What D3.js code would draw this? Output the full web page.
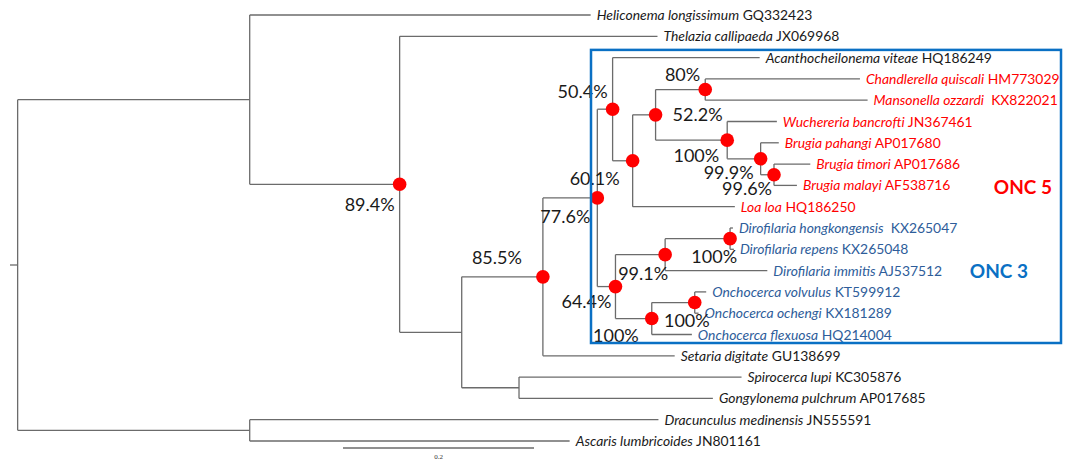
<!DOCTYPE html>
<html>
<head>
<meta charset="utf-8">
<script src="https://cdn.jsdelivr.net/npm/d3@7"></script>
<style>
  body { margin: 0; background: #fff; }
  svg { display: block; }
  .branch { fill: none; stroke: #6b6b6b; stroke-width: 1.3; }
  .leaf-label { font-family: Lato, "Noto Sans", sans-serif; font-size: 13.9px; }
  .support { font-family: Lato, "Noto Sans", sans-serif; font-size: 18px; fill: #1a1a1a; }
</style>
</head>
<body>
<div id="chart"></div>
<script>
// tree: [node, parent, branch length (substitutions/site)]
const branches = [
  ["root", "", 0.008],
  ["N1", "root", 0.243],
  ["Heliconema", "N1", 0.357],
  ["N2", "N1", 0.157],
  ["Thelazia", "N2", 0.270],
  ["N3", "N2", 0.065],
  ["N4", "N3", 0.085],
  ["N5", "N4", 0.057],
  ["N6", "N5", 0.016],
  ["Acanthocheilonema", "N6", 0.154],
  ["N7", "N6", 0.021],
  ["N8", "N7", 0.024],
  ["N9", "N8", 0.052],
  ["Chandlerella", "N9", 0.162],
  ["Mansonella", "N9", 0.170],
  ["N10", "N8", 0.075],
  ["Wuchereria", "N10", 0.052],
  ["N11", "N10", 0.035],
  ["BPahangi", "N11", 0.019],
  ["N12", "N11", 0.014],
  ["BTimori", "N12", 0.038],
  ["BMalayi", "N12", 0.024],
  ["Loa", "N7", 0.107],
  ["N13", "N5", 0.019],
  ["N14", "N13", 0.052],
  ["N15", "N14", 0.068],
  ["DHongkongensis", "N15", 0.003],
  ["DRepens", "N15", 0.004],
  ["DImmitis", "N14", 0.107],
  ["N16", "N13", 0.038],
  ["N17", "N16", 0.045],
  ["OVolvulus", "N17", 0.012],
  ["OOchengi", "N17", 0.004],
  ["OFlexuosa", "N16", 0.042],
  ["Setaria", "N4", 0.138],
  ["N18", "N3", 0.060],
  ["Spirocerca", "N18", 0.233],
  ["Gongylonema", "N18", 0.203],
  ["N19", "root", 0.243],
  ["Dracunculus", "N19", 0.428],
  ["Ascaris", "N19", 0.335]
];

const leafIds = ["Heliconema", "Thelazia", "Acanthocheilonema", "Chandlerella", "Mansonella",
  "Wuchereria", "BPahangi", "BTimori", "BMalayi", "Loa", "DHongkongensis", "DRepens",
  "DImmitis", "OVolvulus", "OOchengi", "OFlexuosa", "Setaria", "Spirocerca", "Gongylonema",
  "Dracunculus", "Ascaris"];
const leafSpecies = ["Heliconema longissimum", "Thelazia callipaeda", "Acanthocheilonema viteae",
  "Chandlerella quiscali", "Mansonella ozzardi", "Wuchereria bancrofti", "Brugia pahangi",
  "Brugia timori", "Brugia malayi", "Loa loa", "Dirofilaria hongkongensis", "Dirofilaria repens",
  "Dirofilaria immitis", "Onchocerca volvulus", "Onchocerca ochengi", "Onchocerca flexuosa",
  "Setaria digitate", "Spirocerca lupi", "Gongylonema pulchrum", "Dracunculus medinensis",
  "Ascaris lumbricoides"];
const leafAccessions = ["GQ332423", "JX069968", "HQ186249", "HM773029", "\u00a0KX822021",
  "JN367461", "AP017680", "AP017686", "AF538716", "HQ186250", "\u00a0KX265047", "KX265048",
  "AJ537512", "KT599912", "KX181289", "HQ214004", "GU138699", "KC305876", "AP017685",
  "JN555591", "JN801161"];
const leafGroups = ["", "", "", "ONC 5", "ONC 5", "ONC 5", "ONC 5", "ONC 5", "ONC 5", "ONC 5",
  "ONC 3", "ONC 3", "ONC 3", "ONC 3", "ONC 3", "ONC 3", "", "", "", "", ""];

const supportNodes = ["N2", "N4", "N7", "N5", "N6", "N9", "N8", "N10", "N11", "N12",
  "N13", "N14", "N15", "N16", "N17"];
const supportValues = ["89.4%", "85.5%", "60.1%", "77.6%", "50.4%", "80%", "52.2%", "100%",
  "99.9%", "99.6%", "64.4%", "99.1%", "100%", "100%", "100%"];

const scaleBarValue = 0.2;

const width = 1067, height = 462;
const groupColor = { "": "#1a1a1a", "ONC 5": "#ff0000", "ONC 3": "#2e5d9a" };

const svg = d3.select('#chart').append('svg')
  .attr('width', width)
  .attr('height', height);

const root = d3.stratify()
  .id(d => d[0])
  .parentId(d => d[1] || null)(branches);

// cumulative distance from the origin
root.eachBefore(n => {
  n.dist = (n.parent ? n.parent.dist : 0) + n.data[2];
});

const x = d3.scaleLinear().domain([0, 1]).range([10, 965]);
const y = d3.scalePoint().domain(leafIds).range([15, 441]);

root.eachAfter(n => {
  n.px = x(n.dist);
  if (!n.children) {
    n.py = y(n.id);
  } else {
    n.py = (n.children[0].py + n.children[n.children.length - 1].py) / 2;
  }
});

const g = svg.append('g');

// horizontal branches
g.selectAll('line.h')
  .data(root.descendants())
  .join('line')
  .attr('class', 'branch')
  .attr('x1', d => d.parent ? d.parent.px : x(0))
  .attr('x2', d => d.px)
  .attr('y1', d => d.py)
  .attr('y2', d => d.py);

// vertical connectors
g.selectAll('line.v')
  .data(root.descendants().filter(d => d.children))
  .join('line')
  .attr('class', 'branch')
  .attr('x1', d => d.px)
  .attr('x2', d => d.px)
  .attr('y1', d => d.children[0].py)
  .attr('y2', d => d.children[d.children.length - 1].py);

// clade box
const onc = root.leaves().filter(d => leafGroups[leafIds.indexOf(d.id)] !== '');
const boxTop = d3.min(onc, d => d.py) - 29;
const boxBottom = d3.max(onc, d => d.py) + 8.5;
svg.append('rect')
  .attr('x', 591)
  .attr('y', boxTop)
  .attr('width', 470)
  .attr('height', boxBottom - boxTop)
  .attr('fill', 'none')
  .attr('stroke', '#0a70c4')
  .attr('stroke-width', 2.5);

// leaf labels
const leafText = g.selectAll('text.leaf-label')
  .data(root.leaves())
  .join('text')
  .attr('class', 'leaf-label')
  .attr('x', d => d.px + 6)
  .attr('y', d => d.py + 5)
  .attr('fill', d => groupColor[leafGroups[leafIds.indexOf(d.id)]]);
leafText.append('tspan')
  .attr('font-style', 'italic')
  .text(d => leafSpecies[leafIds.indexOf(d.id)]);
leafText.append('tspan')
  .text(d => ' ' + leafAccessions[leafIds.indexOf(d.id)]);

// support dots and values
const labelPlace = {
  N2: ['end', -5, 27], N4: ['end', -21, -13], N7: ['middle', -38, 24], N5: ['end', -7, 25],
  N6: ['end', -5, -11], N9: ['end', -5, -9], N8: ['start', 17, 6], N10: ['end', -8, 22],
  N11: ['end', -7, 20], N12: ['end', -2, 20], N13: ['end', -4, 21], N14: ['end', 3, 25],
  N15: ['end', 7, 24], N16: ['end', -13, 23], N17: ['end', 15, 24]
};
const supported = supportNodes.map((id, i) => {
  const n = root.find(d => d.id === id);
  return { node: n, value: supportValues[i], place: labelPlace[id] };
});

g.selectAll('circle.dot')
  .data(supported)
  .join('circle')
  .attr('cx', d => d.node.px)
  .attr('cy', d => d.node.py)
  .attr('r', 6.8)
  .attr('fill', '#ff0000');

g.selectAll('text.support')
  .data(supported)
  .join('text')
  .attr('class', 'support')
  .attr('text-anchor', d => d.place[0])
  .attr('x', d => d.node.px + d.place[1])
  .attr('y', d => d.node.py + d.place[2])
  .text(d => d.value);

// clade names
svg.append('text')
  .attr('x', 1052).attr('y', 194)
  .attr('text-anchor', 'end')
  .attr('font-family', 'Lato, "Noto Sans", sans-serif')
  .attr('font-weight', 'bold')
  .attr('font-size', 19)
  .attr('fill', '#ff0000')
  .text('ONC 5');
svg.append('text')
  .attr('x', 1028).attr('y', 278)
  .attr('text-anchor', 'end')
  .attr('font-family', 'Lato, "Noto Sans", sans-serif')
  .attr('font-weight', 'bold')
  .attr('font-size', 19)
  .attr('fill', '#0a70c4')
  .text('ONC 3');

// scale bar
const barX = 343;
svg.append('line')
  .attr('class', 'branch')
  .attr('x1', barX)
  .attr('x2', barX + x(scaleBarValue) - x(0))
  .attr('y1', 448).attr('y2', 448);
svg.append('text')
  .attr('x', barX + (x(scaleBarValue) - x(0)) / 2)
  .attr('y', 459)
  .attr('text-anchor', 'middle')
  .attr('font-family', '"Liberation Serif", serif')
  .attr('font-size', 7)
  .attr('fill', '#333')
  .text(scaleBarValue);
</script>
</body>
</html>
